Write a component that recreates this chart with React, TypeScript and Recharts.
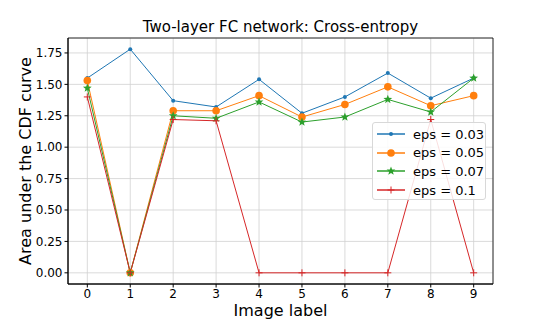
import React from 'react';
import { LineChart, Line, XAxis, YAxis, CartesianGrid, ReferenceArea } from 'recharts';

// values
const labels = [0, 1, 2, 3, 4, 5, 6, 7, 8, 9];
const eps003 = [1.55, 1.78, 1.37, 1.32, 1.54, 1.27, 1.40, 1.59, 1.39, 1.55];
const eps005 = [1.53, 0.0, 1.29, 1.29, 1.41, 1.24, 1.34, 1.48, 1.33, 1.41];
const eps007 = [1.47, 0.0, 1.25, 1.23, 1.36, 1.20, 1.24, 1.38, 1.28, 1.55];
const eps01 = [1.40, 0.0, 1.22, 1.21, 0.0, 0.0, 0.0, 0.0, 1.22, 0.0];
const yTicks = [0, 0.25, 0.5, 0.75, 1.0, 1.25, 1.5, 1.75];

const data = labels.map((l, i) => ({
  label: l,
  a: eps003[i],
  b: eps005[i],
  c: eps007[i],
  d: eps01[i],
}));

const BLUE = '#1f77b4';
const ORANGE = '#ff7f0e';
const GREEN = '#2ca02c';
const RED = '#d62728';
const FONT = 'DejaVu Sans, sans-serif';

const starPoints = (cx: number, cy: number, R: number) => {
  const r = R * 0.42;
  const pts: string[] = [];
  for (let k = 0; k < 10; k++) {
    const ang = -Math.PI / 2 + (k * Math.PI) / 5;
    const rad = k % 2 === 0 ? R : r;
    pts.push(`${cx + rad * Math.cos(ang)},${cy + rad * Math.sin(ang)}`);
  }
  return pts.join(' ');
};

const Marker = ({ kind, cx, cy }: { kind: string; cx: number; cy: number }) => {
  if (kind === 'point') return <circle cx={cx} cy={cy} r={2} fill={BLUE} />;
  if (kind === 'circle') return <circle cx={cx} cy={cy} r={3.8} fill={ORANGE} />;
  if (kind === 'star') return <polygon points={starPoints(cx, cy, 4.6)} fill={GREEN} />;
  return (
    <g stroke={RED} strokeWidth={1}>
      <line x1={cx - 3.5} y1={cy} x2={cx + 3.5} y2={cy} />
      <line x1={cx} y1={cy - 3.5} x2={cx} y2={cy + 3.5} />
    </g>
  );
};

const dotFn = (kind: string) => (props: any) => (
  <Marker key={`${kind}-${props.index}`} kind={kind} cx={props.cx} cy={props.cy} />
);

const legendItems = [
  { name: 'eps = 0.03', color: BLUE, kind: 'point' },
  { name: 'eps = 0.05', color: ORANGE, kind: 'circle' },
  { name: 'eps = 0.07', color: GREEN, kind: 'star' },
  { name: 'eps = 0.1', color: RED, kind: 'plus' },
];

export default function App() {
  return (
    <div style={{ position: 'absolute', left: 0, top: 0, width: 548, height: 320, background: '#fff', fontFamily: FONT }}>
      <div style={{ position: 'absolute', left: 68, width: 425, top: 18, textAlign: 'center', fontSize: 15, lineHeight: '18px', color: '#000', whiteSpace: 'nowrap' }}>
        Two-layer FC network: Cross-entropy
      </div>
      <LineChart width={548} height={320} data={data} margin={{ top: 38, right: 55, bottom: 0, left: 0 }}>
        <CartesianGrid stroke="#d0d0d0" strokeWidth={0.8} />
        <XAxis
          dataKey="label"
          type="number"
          domain={[-0.45, 9.45]}
          ticks={labels}
          height={36}
          tickSize={3.5}
          tickMargin={1.5}
          tick={{ fontSize: 12, fill: '#000', fontFamily: FONT }}
          stroke="#000"
          label={{ value: 'Image label', position: 'insideBottom', offset: 4, fontSize: 16, fill: '#000', fontFamily: FONT }}
        />
        <YAxis
          type="number"
          domain={[-0.089, 1.869]}
          ticks={yTicks}
          width={68}
          tickSize={3.5}
          tickMargin={2}
          tickFormatter={(v: number) => v.toFixed(2)}
          tick={{ fontSize: 12, fill: '#000', fontFamily: FONT }}
          stroke="#000"
          label={{ value: 'Area under the CDF curve', angle: -90, position: 'insideLeft', offset: 25, fontSize: 16, fill: '#000', fontFamily: FONT, style: { textAnchor: 'middle' } }}
        />
        <ReferenceArea x1={-0.45} x2={9.45} y1={-0.089} y2={1.869} fill="none" stroke="#000" strokeWidth={0.8} ifOverflow="visible" />
        <Line dataKey="a" stroke={BLUE} strokeWidth={1} dot={dotFn('point')} activeDot={false} isAnimationActive={false} />
        <Line dataKey="b" stroke={ORANGE} strokeWidth={1} dot={dotFn('circle')} activeDot={false} isAnimationActive={false} />
        <Line dataKey="c" stroke={GREEN} strokeWidth={1} dot={dotFn('star')} activeDot={false} isAnimationActive={false} />
        <Line dataKey="d" stroke={RED} strokeWidth={1} dot={dotFn('plus')} activeDot={false} isAnimationActive={false} />
      </LineChart>
      <div
        style={{
          position: 'absolute', left: 372, top: 122, width: 114, height: 78, boxSizing: 'border-box',
          background: 'rgba(255,255,255,0.85)', border: '1px solid #d8d8d8', borderRadius: 3,
          padding: '2px 0 0 4px',
        }}
      >
        {legendItems.map((it) => (
          <div key={it.name} style={{ display: 'flex', alignItems: 'center', height: 18.6, fontSize: 13, color: '#000', whiteSpace: 'nowrap' }}>
            <svg width={28} height={12} style={{ marginRight: 8, flexShrink: 0 }}>
              <line x1={0} y1={6} x2={28} y2={6} stroke={it.color} strokeWidth={1.5} />
              <Marker kind={it.kind} cx={14} cy={6} />
            </svg>
            <span>{it.name}</span>
          </div>
        ))}
      </div>
    </div>
  );
}
